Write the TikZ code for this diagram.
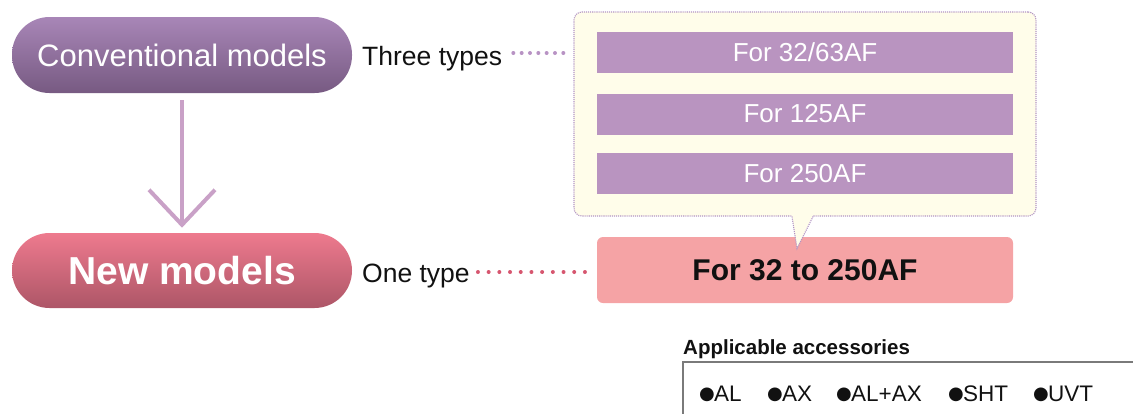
\documentclass[tikz,border=0pt]{standalone}
\usepackage{fontspec}
\setmainfont{Liberation Sans}
\newfontfamily\dejavu{DejaVu Sans}
\definecolor{convTop}{HTML}{A886B7}
\definecolor{convBot}{HTML}{775A82}
\definecolor{newTop}{HTML}{EE7A8E}
\definecolor{newBot}{HTML}{AD5667}
\definecolor{arrowC}{HTML}{C9A1C7}
\definecolor{calloutFill}{HTML}{FFFDEA}
\definecolor{calloutLine}{HTML}{B294C4}
\definecolor{barC}{HTML}{B994C0}
\definecolor{pinkC}{HTML}{F5A3A5}
\definecolor{dotPurple}{HTML}{B893C4}
\definecolor{dotPink}{HTML}{D6566F}
\definecolor{frameC}{HTML}{7A7A7A}
\definecolor{txt}{HTML}{111111}
\newcommand{\bul}{\makebox[15pt][l]{\raisebox{2pt}{\dejavu\fontsize{18}{18}\selectfont ●}}}
\begin{document}
\begin{tikzpicture}[x=1pt,y=-1pt,
  pill/.style={rounded corners=37.5pt, minimum width=340pt, minimum height=76pt, inner sep=0, text=white},
  convpill/.style={pill, top color=convTop, bottom color=convBot, font=\fontsize{31}{31}\selectfont},
  newpill/.style={pill, minimum height=75pt, top color=newTop, bottom color=newBot, font=\bfseries\fontsize{39}{39}\selectfont},
  sidelabel/.style={inner sep=0, anchor=base west, text=txt, font=\fontsize{26.5}{26.5}\selectfont},
  arrowc/.style={draw=arrowC, line width=4pt},
  calloutbox/.style={fill=calloutFill, draw=calloutLine, densely dotted, line width=1.1pt, rounded corners=8pt, minimum width=462pt, minimum height=204pt, inner sep=0},
  bar/.style={fill=barC, minimum width=416pt, minimum height=41pt, inner sep=0, text=white, font=\fontsize{26}{26}\selectfont},
  onebox/.style={fill=pinkC, rounded corners=6pt, minimum width=416pt, minimum height=66pt, inner sep=0, text=txt, font=\bfseries\fontsize{30}{30}\selectfont},
  dotline/.style={line width=4pt, line cap=round, dash pattern=on 0pt off #1},
  acclabel/.style={inner sep=0, anchor=base west, text=txt, font=\bfseries\fontsize{20.5}{20.5}\selectfont},
  item/.style={inner sep=0, anchor=base west, text=txt, font=\fontsize{22.5}{22.5}\selectfont},
  frame/.style={draw=frameC, line width=1.3pt}
]
\useasboundingbox (0,0) rectangle (1133,413);

% left pills
\node[convpill] (conv) at (182,55) {Conventional models};
\node[newpill] (new) at (182,270.5) {New models};

% arrow
\coordinate (tip) at ([yshift=8pt]new.north);
\draw[arrowc] ([yshift=-7pt]conv.south) -- (tip);
\draw[arrowc] ([xshift=-33pt,yshift=35pt]tip) -- (tip) -- ([xshift=33pt,yshift=35pt]tip);

% side labels
\node[sidelabel] (three) at (362,65) {Three types};
\node[sidelabel] (onet) at (362,282) {One type};

% pink box
\node[onebox] (one) at (805,270) {For 32 to 250AF};

% callout
\node[calloutbox] (box) at (805,114) {};
\coordinate (pl) at ([xshift=-13pt,yshift=1.5pt]box.south);
\coordinate (pr) at ([xshift=8pt,yshift=1.5pt]box.south);
\coordinate (pt) at ([xshift=-8pt,yshift=-32pt]box.south);
\fill[calloutFill] (pl) -- (pt) -- (pr) -- cycle;
\draw[draw=calloutLine, densely dotted, line width=1.1pt] ([yshift=-1.5pt]pl) -- (pt) -- ([yshift=-1.5pt]pr);

% bars
\node[bar] (bar1) at (805,52.5) {For 32/63AF};
\node[bar] (bar2) at (805,114) {For 125AF};
\node[bar] (bar3) at (805,173.5) {For 250AF};

% dotted connectors
\coordinate (t1) at (three.base east -| box.west);
\draw[dotline=8.33pt, draw=dotPurple] ([xshift=11pt,yshift=12pt]three.base east) -- ([xshift=-10pt,yshift=12pt]t1);
\coordinate (t2) at (onet.base east -| one.west);
\draw[dotline=10.7pt, draw=dotPink] ([xshift=8pt,yshift=10pt]onet.base east) -- ([xshift=-8pt,yshift=10pt]t2);

% accessories
\node[acclabel] (acc) at (683,354) {Applicable accessories};
\coordinate (corner) at ([yshift=-8pt]acc.base west);
\coordinate (fb) at ([yshift=-60pt]corner);
\coordinate (fr) at ([xshift=460pt]corner);
\draw[frame] (fb) -- (corner) -- (fr);

\node[item] (i1) at (699,401) {\bul AL};
\node[item] (i2) at (767,401) {\bul AX};
\node[item] (i3) at (836,401) {\bul AL+AX};
\node[item] (i4) at (948,401) {\bul SHT};
\node[item] (i5) at (1033,401) {\bul UVT};
\end{tikzpicture}
\end{document}
